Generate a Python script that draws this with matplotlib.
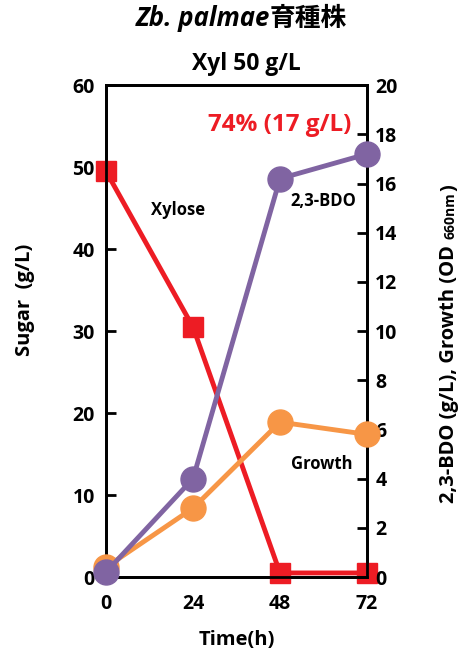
import matplotlib
matplotlib.use('Agg')
import matplotlib.pyplot as plt

# データ
time_h = [0, 24, 48, 72]
xylose = [49.5, 30.5, 0.5, 0.5]        # 左軸 Sugar (g/L)
bdo = [0.2, 4.0, 16.2, 17.2]            # 右軸 2,3-BDO (g/L)
growth = [0.4, 2.8, 6.3, 5.8]           # 右軸 OD660
xticks = [0, 24, 48, 72]
left_ticks = [0, 10, 20, 30, 40, 50, 60]
right_ticks = [0, 2, 4, 6, 8, 10, 12, 14, 16, 18, 20]

RED = '#ED1C24'
PURPLE = '#8064A2'
ORANGE = '#F79646'

plt.rcParams['font.family'] = ['Open Sans', 'Noto Sans CJK JP', 'DejaVu Sans']
plt.rcParams['font.weight'] = 'bold'

fig = plt.figure(figsize=(4.64, 6.55), dpi=100)
ax = fig.add_axes([0.2284, 0.119, 0.5626, 0.751])
ax2 = ax.twinx()

ax.plot(time_h, xylose, color=RED, lw=3.5, marker='s', ms=15, clip_on=False, zorder=3)
ax2.plot(time_h, growth, color=ORANGE, lw=3.5, marker='o', ms=18, clip_on=False, zorder=3)
ax2.plot(time_h, bdo, color=PURPLE, lw=3.5, marker='o', ms=18, clip_on=False, zorder=4)

ax.set_xlim(0, 72)
ax.set_ylim(0, 60)
ax2.set_ylim(0, 20)
ax.set_xticks(xticks)
ax.set_yticks(left_ticks)
ax2.set_yticks(right_ticks)

for a in (ax, ax2):
    for s in a.spines.values():
        s.set_linewidth(2)
ax.tick_params(axis='y', direction='in', length=7, width=2, labelsize=14, pad=8)
ax.tick_params(axis='x', length=0, labelsize=14, pad=12)
ax2.tick_params(axis='y', direction='in', length=7, width=2, labelsize=14, pad=6)
for lbl in ax.get_xticklabels() + ax.get_yticklabels() + ax2.get_yticklabels():
    lbl.set_fontweight('bold')

ax.set_xlabel('Time(h)', fontsize=14.5, fontweight='bold', labelpad=12)
fig.text(0.054, 0.542, 'Sugar  (g/L)', rotation=90, ha='center', va='center',
         fontsize=14.5, fontweight='bold')

# 右軸ラベル（660nm は小さく）
t1 = fig.text(0.99, 0.232, '2,3-BDO (g/L), Growth (OD ', rotation=90, ha='right', va='bottom',
              fontsize=14.5, fontweight='bold')
t2 = ax2.annotate('660nm', xy=(1, 1), xycoords=t1, ha='right', va='bottom', rotation=90,
                  fontsize=10, fontweight='bold', xytext=(-1, 1), textcoords='offset points',
                  annotation_clip=False)
ax2.annotate(')', xy=(1, 1), xycoords=t2, ha='right', va='bottom', rotation=90,
             fontsize=14.5, fontweight='bold', xytext=(1, 1), textcoords='offset points',
             annotation_clip=False)

# タイトル
t3 = fig.text(0.582, 0.972, 'Zb. palmae', ha='right', va='center', fontsize=18.5,
              fontweight='bold', style='italic')
ax.annotate('育種株', xy=(1, 0.5), xycoords=t3, ha='left', va='center', fontsize=18.5,
            fontweight='bold', annotation_clip=False)
fig.text(0.532, 0.903, 'Xyl 50 g/L', ha='center', va='center', fontsize=16.5, fontweight='bold')

# 系列ラベル
ax.text(20, 44.8, 'Xylose', ha='center', va='center', fontsize=12, fontweight='bold')
ax2.text(60, 15.3, '2,3-BDO', ha='center', va='center', fontsize=12, fontweight='bold')
ax2.text(59.5, 4.6, 'Growth', ha='center', va='center', fontsize=12, fontweight='bold')
ax2.text(48, 18.4, '74% (17 g/L)', ha='center', va='center', fontsize=17.5,
         fontweight='bold', color=RED)

fig.savefig('out.png', dpi=100)
